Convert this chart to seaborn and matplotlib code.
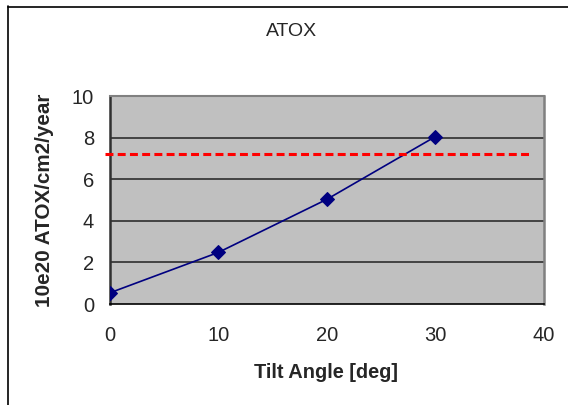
import matplotlib
matplotlib.use("Agg")
import matplotlib.pyplot as plt
import seaborn as sns
import pandas as pd
from matplotlib.lines import Line2D

# Data
tilt_deg = [0, 10, 20, 30]
atox_flux = [0.54, 2.48, 5.03, 8.04]
limit_x = [-0.5, 38.8]
limit_y = [7.2, 7.2]
x_ticks = [0, 10, 20, 30, 40]
y_ticks = [0, 2, 4, 6, 8, 10]

sns.set_theme(style="white")
plt.rcParams['font.family'] = ['Liberation Sans', 'DejaVu Sans']

fig = plt.figure(figsize=(5.68, 4.05), dpi=100)
fig.patch.set_facecolor("white")
ax = fig.add_axes([110/568, 1-304/405, 433.5/568, 208/405])
ax.set_facecolor("#C0C0C0")

df = pd.DataFrame({"tilt": tilt_deg, "flux": atox_flux})
sns.lineplot(data=df, x="tilt", y="flux", ax=ax, color="#000080", lw=1.2,
             marker="D", markersize=7, markeredgecolor="#000080", zorder=4)
sns.lineplot(x=limit_x, y=limit_y, ax=ax, color="#FF0000", lw=2.2, zorder=5)
redline = ax.lines[-1]
redline.set_dashes((2.6, 1.4))
redline.set_clip_on(False)
redline.set_dash_capstyle("butt")

ax.set_xlim(0, 40)
ax.set_ylim(0, 10)
ax.set_xticks(x_ticks)
ax.set_yticks(y_ticks)
ax.set_xticklabels([str(v) for v in x_ticks], fontsize=14.5)
ax.set_yticklabels([str(v) for v in y_ticks], fontsize=14.5)
ax.tick_params(axis="x", direction="inout", length=7, width=1, color="black", pad=12)
ax.tick_params(axis="y", direction="inout", length=9, width=1, color="black", pad=7)
ax.set_xlabel("")
ax.set_ylabel("")

for yv in y_ticks[1:-1]:
    ax.axhline(yv, color="#222222", lw=1.1, zorder=1)

ax.spines["left"].set_color("#303030")
ax.spines["left"].set_linewidth(1.8)
ax.spines["bottom"].set_color("black")
ax.spines["bottom"].set_linewidth(1.2)
ax.spines["top"].set_color("#808080")
ax.spines["top"].set_linewidth(1.5)
ax.spines["right"].set_color("#808080")
ax.spines["right"].set_linewidth(1.8)

fig.text(292/568, 1-32/405, "ATOX", ha="center", va="center", fontsize=14)
fig.text(326/568, 1-372/405, "Tilt Angle [deg]", ha="center", va="center",
         fontsize=14.4, fontweight="bold")
fig.text(45/568, 1-200/405, "10e20 ATOX/cm2/year", ha="center", va="center",
         rotation=90, fontsize=14.9, fontweight="bold")

# chart border (left and top edges visible)
fig.add_artist(Line2D([8/568, 8/568], [0, 1-6/405], color="black", lw=1.2,
                      transform=fig.transFigure))
fig.add_artist(Line2D([8/568, 1], [1-6.5/405, 1-6.5/405], color="black", lw=1.2,
                      transform=fig.transFigure))

fig.savefig("out.png", dpi=100)
